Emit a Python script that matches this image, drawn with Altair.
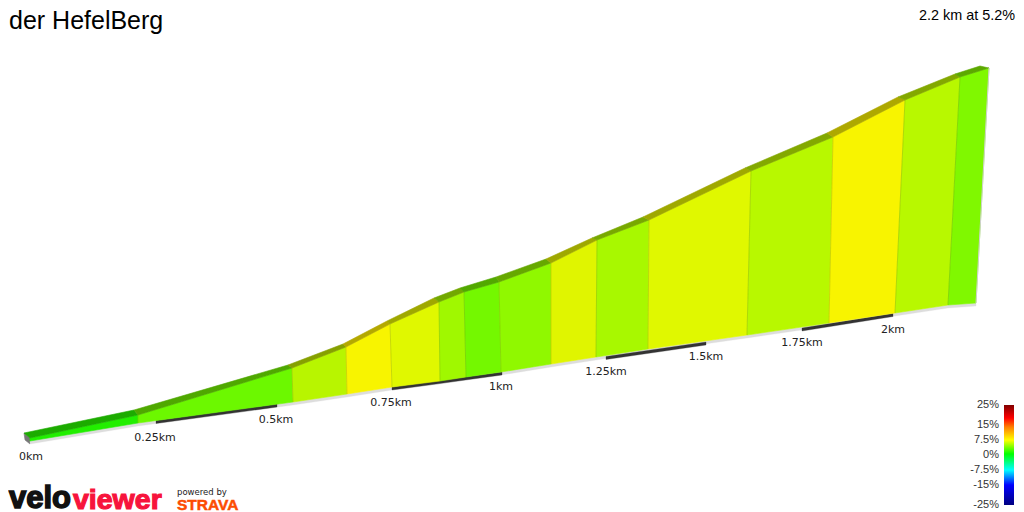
import altair as alt
import pandas as pd

# profile (image pixel units, projected 3D view)
back_x = [24, 134, 288, 343, 387, 434, 460, 496, 546, 592, 643, 745, 827, 898, 955, 980]
back_y = [433, 410, 365, 344, 321, 298, 288, 277, 259, 238, 217, 168, 133, 97, 74, 66]
front_x = [30, 138, 292, 346, 390, 439, 464, 499, 551, 597, 649, 751, 833, 905, 960, 989]
front_y = [438, 415, 368, 347, 324, 302, 292, 282, 263, 240, 220, 171, 137, 100, 77, 68]
base_x = [30, 138, 293, 347, 392, 440, 466, 501, 551, 596, 648, 747, 829, 895, 948, 976]
base_y = [441, 423, 402, 394, 387, 381, 377, 372, 364, 357, 349, 335, 323, 313, 305, 303]

face_colors = ["#22ee00", "#6cf800", "#b8f500", "#f8f400", "#e0f800", "#a0f800", "#74f800", "#90f800",
               "#e0f500", "#a8f800", "#e0f800", "#b8f800", "#f8f400", "#b8f800", "#80f800"]
top_colors = ["#1cab00", "#4fa800", "#86a000", "#b4a800", "#9fa800", "#72a800", "#52a800", "#66a800",
              "#9fa800", "#78a800", "#9fa800", "#83a800", "#aea800", "#83a800", "#5ca800"]

km_x = [156, 277, 392, 502, 606, 706, 802, 893]
km_y = [420.5, 404, 387, 372, 356.5, 342, 328, 313.5]

km_labels = ["0km", "0.25km", "0.5km", "0.75km", "1km", "1.25km", "1.5km", "1.75km", "2km"]
km_label_x = [31, 155, 276, 391, 501, 606, 706, 802, 893]
km_label_y = [457, 438, 420, 403, 387, 372, 357, 343, 330]

legend_labels = ["25%", "15%", "7.5%", "0%", "-7.5%", "-15%", "-25%"]
legend_y = [405, 425, 440, 455, 470, 485, 505]
legend_offsets = [0, 0.13, 0.22, 0.35, 0.49, 0.65, 0.8, 1]
legend_colors = ["#800000", "#ff0000", "#ff7f00", "#ffff00", "#00ff00", "#00ffff", "#0000ff", "#000080"]

xs = alt.Scale(domain=[8, 1016], range=[0, 1008], nice=False, zero=False)
ys = alt.Scale(domain=[512, 8], range=[504, 0], nice=False, zero=False)


def poly(points, fill, stroke=None, sw=0.6):
    df = pd.DataFrame(points, columns=["x", "y"]).assign(o=range(len(points)))
    return alt.Chart(df).mark_line(fill=fill, stroke=stroke or fill, strokeWidth=sw, interpolate="linear-closed").encode(
        x=alt.X("x:Q", scale=xs, axis=None),
        y=alt.Y("y:Q", scale=ys, axis=None),
        order="o:Q",
    )


layers = []
# start cap and light base strip
layers.append(poly([(24, 433), (30, 438), (30, 444), (25, 440)], "#777777"))
base_pts = [(x, y) for x, y in zip(base_x, base_y)] + [(x, y + 3) for x, y in zip(base_x[::-1], base_y[::-1])]
layers.append(poly(base_pts, "#dddddd", sw=0.3))
# alternate black km bars
for i in range(0, len(km_x), 2):
    a, b = (km_x[i], km_y[i]), (km_x[i + 1], km_y[i + 1])
    layers.append(poly([a, b, (b[0], b[1] + 3), (a[0], a[1] + 3)], "#333333", sw=0.3))
# faces and top strips
for i in range(len(face_colors)):
    layers.append(poly([(front_x[i], front_y[i]), (front_x[i + 1], front_y[i + 1]),
                        (base_x[i + 1], base_y[i + 1]), (base_x[i], base_y[i])], face_colors[i]))
    layers.append(poly([(back_x[i], back_y[i]), (back_x[i + 1], back_y[i + 1]),
                        (front_x[i + 1], front_y[i + 1]), (front_x[i], front_y[i])], top_colors[i]))
# faint separators between faces
for i in range(1, len(face_colors)):
    sep = pd.DataFrame({"x": [front_x[i], base_x[i]], "y": [front_y[i], base_y[i]]})
    layers.append(alt.Chart(sep).mark_line(color="#708000", opacity=0.25, strokeWidth=1).encode(
        x=alt.X("x:Q", scale=xs, axis=None), y=alt.Y("y:Q", scale=ys, axis=None), order="y:Q"))
# light far edge of the last face
edge = pd.DataFrame({"x": [front_x[-1], base_x[-1]], "y": [front_y[-1], base_y[-1]]})
layers.append(alt.Chart(edge).mark_line(color="#d0d0d0", strokeWidth=1).encode(
    x=alt.X("x:Q", scale=xs, axis=None), y=alt.Y("y:Q", scale=ys, axis=None), order="y:Q"))


def text(rows, **mark):
    df = pd.DataFrame(rows, columns=["x", "y", "t"])
    return alt.Chart(df).mark_text(baseline="middle", **mark).encode(
        x=alt.X("x:Q", scale=xs, axis=None),
        y=alt.Y("y:Q", scale=ys, axis=None),
        text="t:N",
    )


layers.append(text(list(zip(km_label_x, km_label_y, km_labels)), font="DejaVu Sans", fontSize=11, color="#222222", align="center"))
layers.append(text(list(zip([999] * 7, legend_y, legend_labels)), font="Liberation Sans", fontSize=11, color="#333333", align="right"))
layers.append(text([(9, 21, "der HefelBerg")], font="Liberation Sans", fontSize=25, color="#000000", align="left"))
layers.append(text([(1015, 16, "2.2 km at 5.2%")], font="Liberation Sans", fontSize=14.4, color="#000000", align="right"))
layers.append(text([(9, 499, "velo")], font="Liberation Sans", fontSize=31, fontWeight="bold", color="#111111", stroke="#111111", strokeWidth=1.5, align="left"))
layers.append(text([(73, 499.5, "viewer")], font="Liberation Sans", fontSize=28.5, fontWeight="bold", color="#f7143c", stroke="#f7143c", strokeWidth=1.2, align="left"))
layers.append(text([(177, 492, "powered by")], font="DejaVu Sans", fontSize=8.5, color="#222222", align="left"))
layers.append(text([(177, 505, "STRAVA")], font="Liberation Sans", fontSize=15.5, fontWeight="bold", color="#fc4c02", stroke="#fc4c02", strokeWidth=0.5, align="left"))

gradient = alt.Gradient(gradient="linear", x1=0, y1=0, x2=0, y2=1,
                        stops=[alt.GradientStop(color=c, offset=o) for c, o in zip(legend_colors, legend_offsets)])
bar = alt.Chart(pd.DataFrame({"x": [1004], "x2": [1014], "y": [405], "y2": [505]})).mark_rect(fill=gradient).encode(
    x=alt.X("x:Q", scale=xs, axis=None), x2="x2:Q", y=alt.Y("y:Q", scale=ys, axis=None), y2="y2:Q")
layers.append(bar)

chart = alt.layer(*layers).properties(
    width=1008, height=504, padding=0, autosize=alt.AutoSizeParams(type="none")
).configure_view(stroke=None)
chart.save("out.html", embed_options={"renderer": "svg", "actions": False})
